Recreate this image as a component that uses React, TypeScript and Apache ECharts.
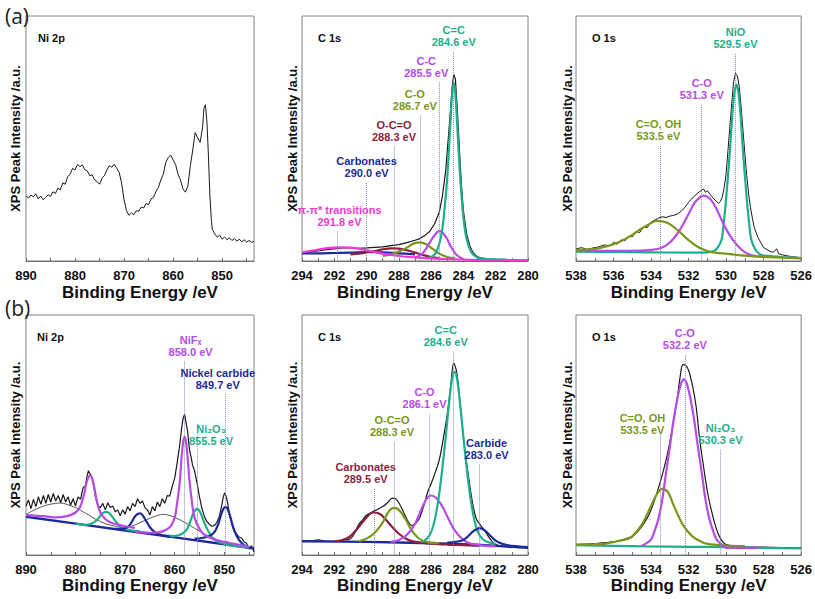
import React, { useEffect, useRef } from "react";
import * as echarts from "echarts";

// ---------- tick labels ----------
const niLabels = [850, 860, 870, 880, 890];
const niTicks = [845, 850, 855, 860, 865, 870, 875, 880, 885, 890];
const cLabels = [280, 282, 284, 286, 288, 290, 292, 294];
const cTicks = [280, 281, 282, 283, 284, 285, 286, 287, 288, 289, 290, 291, 292, 293, 294];
const oLabels = [526, 528, 530, 532, 534, 536, 538];
const oTicks = [526, 527, 528, 529, 530, 531, 532, 533, 534, 535, 536, 537, 538];

// ---------- (a) Ni 2p ----------
const aNiData = [[890,197],[889.5,190],[889,199],[888.5,194],[888,203],[887.5,188],[887,196],[886.5,185],[886,192],[885.5,200],[885,195],[884.5,209],[884,204],[883.5,220],[883,215],[882.5,236],[882,232],[881.5,255],[881,262],[880.5,280],[880,275],[879.5,292],[879,285],[878.5,290],[878,276],[877.5,272],[877,258],[876.5,260],[876,245],[875.5,240],[875,232],[874.5,250],[874,258],[873.5,275],[873,288],[872.5,283],[872,292],[871.5,280],[871,268],[870.5,235],[870,185],[869.5,152],[869,138],[868.5,145],[868,140],[867.5,152],[867,150],[866.5,163],[866,160],[865.5,174],[865,170],[864.5,188],[864,192],[863.5,210],[863,222],[862.5,245],[862,262],[861.5,298],[861,312],[860.5,320],[860,305],[859.5,292],[859,262],[858.5,245],[858,218],[857.5,208],[857,225],[856.5,285],[856,335],[855.5,388],[855,372],[854.5,358],[854,402],[853.7,462],[853.4,472],[853.1,420],[852.8,320],[852.5,200],[852.2,125],[852,95],[851.5,82],[851,72],[850.5,78],[850,66],[849.5,72],[849,64],[848.5,70],[848,62],[847.5,68],[847,60],[846.5,66],[846,58],[845.5,64],[845,57],[844.5,62],[844,56],[843.5,60]];

// ---------- (a) C 1s ----------
const aCData = [[294,25],[293.5,28],[293,30],[292.5,34],[292,36],[291.5,39],[291,40],[290.5,38],[290,39],[289.5,41],[289,42],[288.5,46],[288,49],[287.5,55],[287,62],[286.7,67],[286.4,76],[286.1,88],[285.8,110],[285.5,145],[285.3,195],[285.1,270],[284.95,360],[284.8,450],[284.7,520],[284.6,558],[284.5,545],[284.4,470],[284.3,380],[284.2,290],[284.1,210],[284,150],[283.8,80],[283.6,45],[283.4,25],[283.2,15],[283,10],[282.5,6],[282,4],[281,3],[280,3]];
const aC_CC2 = [[286.4,8],[286,12],[285.7,25],[285.4,70],[285.2,140],[285,250],[284.8,420],[284.7,500],[284.6,533],[284.5,500],[284.4,420],[284.2,250],[284,130],[283.8,65],[283.5,25],[283.2,12],[283,8],[282.5,6],[282,5],[281.3,4]];
const aC_CC = [[287,10],[286.6,20],[286.3,38],[286,62],[285.7,82],[285.5,90],[285.3,85],[285,65],[284.8,45],[284.5,22],[284.2,10],[284,6]];
const aC_CO = [[289,15],[288.5,20],[288,28],[287.5,40],[287.1,52],[286.7,56],[286.3,50],[285.9,36],[285.5,22],[285,12],[284.5,8]];
const aC_OCO = [[291,20],[290.5,22],[290,26],[289.5,30],[289,35],[288.5,38],[288.3,38],[288,37],[287.5,32],[287,25],[286.5,18],[286,12],[285.5,9]];
const aC_Carb = [[294,23],[293,23],[292,24],[291,25],[290,27],[289,26],[288,23],[287,20]];
const aC_Pi = [[294,26],[293.5,30],[293,34],[292.5,38],[292,40],[291.5,41],[291,40],[290.5,37],[290,32],[289.5,27],[289,22],[288.5,18],[288,15],[287,11],[286,8],[285,6],[284,4],[283,3],[282,3],[281,3],[280,3]];
const aCNotes = [["C=C\n284.6 eV", 284.6], ["C-C\n285.5 eV", 285.5], ["C-O\n286.7 eV", 286.7], ["O-C=O\n288.3 eV", 288.3], ["Carbonates\n290.0 eV", 290.0], ["π-π* transitions\n291.8 eV", 291.8]];

// ---------- (a) O 1s ----------
const aOData = [[538,36],[537.7,40],[537.4,34],[537.1,39],[536.8,42],[536.5,48],[536.2,45],[536,56],[535.8,50],[535.6,63],[535.4,60],[535.2,74],[535,72],[534.8,88],[534.6,85],[534.4,102],[534.2,100],[534,116],[533.8,122],[533.6,128],[533.4,132],[533.2,130],[533,134],[532.8,136],[532.6,140],[532.4,148],[532.2,160],[532,175],[531.8,188],[531.6,198],[531.4,208],[531.2,215],[531.1,205],[531,210],[530.8,195],[530.6,182],[530.4,172],[530.3,178],[530.2,192],[530.1,220],[530,260],[529.9,330],[529.8,400],[529.7,470],[529.6,535],[529.5,560],[529.4,552],[529.3,520],[529.2,460],[529.1,390],[529,320],[528.9,255],[528.8,200],[528.7,160],[528.6,128],[528.5,100],[528.3,70],[528.1,50],[528,40],[527.7,30],[527.5,26],[527.3,36],[527.2,22],[527,18],[526.5,13],[526,10]];
const aO_OH = [[538,33],[537,36],[536.5,42],[536,50],[535.5,62],[535,78],[534.5,97],[534,113],[533.7,120],[533.3,117],[533,110],[532.5,88],[532,62],[531.5,42],[531,30],[530.5,24],[530,22],[529,16],[528,12],[527,10],[526,8]];
const aO_CO = [[538,30],[536,30],[534.5,31],[534,33],[533.5,38],[533,55],[532.5,90],[532,140],[531.7,172],[531.4,190],[531.2,195],[530.9,188],[530.6,165],[530.3,130],[530,95],[529.6,60],[529.2,35],[528.8,20],[528.3,14],[527.8,12]];
const aO_NiO = [[538,28],[536,27],[534,26],[532,25],[531,26],[530.65,30],[530.45,40],[530.25,62],[530.15,100],[530.05,155],[529.95,220],[529.85,290],[529.75,370],[529.65,450],[529.55,505],[529.45,526],[529.35,505],[529.25,450],[529.15,370],[529.05,290],[528.95,220],[528.85,155],[528.75,100],[528.65,62],[528.45,35],[528.25,22],[528,16],[527,12],[526,9]];
const aONotes = [["NiO\n529.5 eV", 529.5], ["C-O\n531.3 eV", 531.3], ["C=O, OH\n533.5 eV", 533.5]];

// ---------- (b) Ni 2p ----------
const bNiData = [[890,150],[889.5,168],[889,142],[888.5,170],[888,148],[887.5,178],[887,155],[886.5,182],[886,158],[885.5,185],[885,162],[884.5,188],[884,165],[883.5,182],[883,160],[882.5,185],[882,162],[881.5,178],[881,152],[880.5,172],[880,150],[879.5,178],[879,170],[878.5,205],[878,212],[877.7,240],[877.4,258],[877.1,248],[876.8,242],[876.5,222],[876.2,198],[876,178],[875.5,150],[875,145],[874.5,158],[874,138],[873.5,160],[873,145],[872.5,150],[872,132],[871.5,138],[871,120],[870.5,138],[870,125],[869.5,148],[869,135],[868.5,158],[868,148],[867.5,172],[867,158],[866.5,165],[866,145],[865.5,138],[865,122],[864.5,148],[864,135],[863.5,162],[863,148],[862.5,172],[862,158],[861.5,182],[861,180],[860.5,210],[860,235],[859.5,282],[859,335],[858.6,388],[858.3,418],[858,430],[857.7,405],[857.4,378],[857,320],[856.7,300],[856.4,275],[856,258],[855.7,235],[855.4,212],[855,178],[854.5,142],[854,118],[853.5,102],[853,94],[852.5,88],[852,90],[851.5,100],[851,118],[850.5,152],[850.2,178],[849.9,190],[849.6,178],[849.3,158],[849,128],[848.5,96],[848,72],[847.5,64],[847,55],[846.5,52],[846,40],[845.5,36],[845,18],[844.5,28],[844,10]];
const bNiBase = [[890,117],[880,96],[870,75],[860,54],[850,33],[844,20]];
const bNiSat1 = [[890,124],[888,140],[886,152],[884,158],[883,159],[882,156],[880,145],[878,128],[876,110],[874,96],[872,88],[870,82]];
const bNiSat2 = [[872,78],[870,82],[868,92],[866,106],[864,118],[862.5,124],[861.5,123],[860,115],[858,100],[856,82],[854,64],[852,50],[850,38],[848,30],[846,25]];
const bNiF1 = [[890,122],[886,118],[884,115],[882,118],[880,130],[879,150],[878.3,185],[877.8,220],[877.3,240],[877,242],[876.6,232],[876.2,205],[875.7,165],[875,130],[874,110],[873,100],[872,95],[870,88],[868,83]];
const bNiF2 = [[868,72],[865,68],[863,70],[861,85],[860,115],[859.5,160],[859,220],[858.6,300],[858.3,345],[858,362],[857.7,345],[857.4,300],[857,225],[856.5,160],[856,115],[855,80],[854,62],[852,48],[850,40],[848,34],[846,28],[845,25]];
const bNiO1 = [[880,96],[878,92],[876.5,98],[875.5,110],[874.8,124],[874.2,131],[873.8,132],[873.2,128],[872.5,115],[871.5,95],[870.5,82],[869,76],[867,72]];
const bNiO2 = [[862,60],[860,58],[858.5,65],[857.5,80],[856.8,105],[856.2,130],[855.7,140],[855.5,142],[855,135],[854.5,118],[854,98],[853.3,75],[852.5,55],[851.5,42],[850,34],[848,28],[846,24],[845,22]];
const bNiC1 = [[872,80],[870.5,80],[869.5,85],[868.7,100],[868,118],[867.4,126],[867,127],[866.5,122],[865.8,105],[865,85],[864,70],[862.5,60],[861,56]];
const bNiC2 = [[856,50],[854.5,52],[853,58],[852,70],[851.2,95],[850.6,125],[850.1,143],[849.7,147],[849.3,140],[848.8,118],[848.2,85],[847.5,58],[846.8,42],[846,30],[845,24]];
const bNiNotes = [["NiFₓ\n858.0 eV", 858.0], ["Nickel carbide\n849.7 eV", 849.7], ["Ni₂O₃\n855.5 eV", 855.5]];

// ---------- (b) C 1s ----------
const bCData = [[294,42],[293.5,43],[293,46],[292.5,42],[292,42],[291.5,45],[291,50],[290.7,70],[290.5,92],[290.2,110],[290,122],[289.5,135],[289,148],[288.7,160],[288.4,174],[288.2,172],[288,160],[287.7,130],[287.4,100],[287.2,90],[287,94],[286.7,115],[286.4,160],[286.2,195],[286,218],[285.8,245],[285.5,290],[285.2,370],[285,430],[284.8,510],[284.6,587],[284.4,555],[284.2,460],[284,360],[283.8,280],[283.6,210],[283.4,150],[283.2,110],[283,95],[282.8,82],[282.5,60],[282.2,40],[282,32],[281.5,26],[281,24],[280,22]];
const bCBase = [[294,42],[290,40],[286,36],[284,33],[282,28],[280,22]];
const bC_Carb = [[292,42],[291.5,46],[291,58],[290.5,85],[290,115],[289.6,130],[289.2,126],[288.8,108],[288.4,85],[288,65],[287.5,48],[287,40],[286,35],[285,32],[284,30],[283,28]];
const bC_OCO = [[290.5,42],[290,50],[289.5,68],[289,100],[288.6,135],[288.3,144],[288,138],[287.6,110],[287.2,75],[286.8,52],[286.3,40],[285.5,36]];
const bC_CO = [[288.5,40],[288,46],[287.5,62],[287,95],[286.6,140],[286.3,170],[286,182],[285.7,175],[285.3,148],[285,118],[284.6,80],[284.2,55],[283.8,40],[283.3,32],[282.5,28],[282,26]];
const bC_CC = [[286.6,40],[286.3,48],[286,70],[285.7,125],[285.4,225],[285.1,360],[284.9,460],[284.7,540],[284.55,560],[284.4,540],[284.2,460],[284,360],[283.7,225],[283.4,125],[283.1,70],[282.8,48],[282.5,40],[282,34]];
const bC_Carbide = [[285,38],[284.5,40],[284,46],[283.7,58],[283.4,72],[283.1,81],[283,82],[282.7,76],[282.4,62],[282.1,48],[281.8,38],[281.3,30],[280.5,26],[280,24]];
const bCNotes = [["C=C\n284.6 eV", 284.6], ["C-O\n286.1 eV", 286.1], ["O-C=O\n288.3 eV", 288.3], ["Carbide\n283.0 eV", 283.0], ["Carbonates\n289.5 eV", 289.5]];

// ---------- (b) O 1s ----------
const bOData = [[538,32],[537,35],[536,40],[535.5,47],[535,57],[534.7,72],[534.4,95],[534.1,125],[533.8,170],[533.5,225],[533.2,290],[533,345],[532.8,410],[532.6,480],[532.45,545],[532.3,582],[532.15,580],[532,565],[531.8,520],[531.6,455],[531.4,350],[531.2,270],[531,195],[530.8,140],[530.6,95],[530.4,62],[530.2,42],[530,32],[529.5,27],[529,25],[528,24],[527,23],[526,22]];
const bO_OH = [[538,32],[537,33],[536.5,34],[535.8,42],[535.3,48],[535,57],[534.5,92],[534,150],[533.7,185],[533.4,202],[533.1,192],[532.8,152],[532.3,92],[531.8,57],[531.3,40],[531,34],[530,29],[529,27]];
const bO_CO = [[534.5,28],[534.2,38],[534,47],[533.8,75],[533.6,112],[533.4,170],[533.2,252],[533,330],[532.8,412],[532.6,478],[532.4,525],[532.25,537],[532.1,525],[531.9,478],[531.7,412],[531.5,330],[531.3,252],[531.1,170],[530.9,112],[530.7,75],[530.5,47],[530.2,30],[530,22],[529,22],[528.3,22]];
const bO_Ni2O3 = [[538,30],[536,28],[534,26],[532,25],[530,24],[528,22],[526,20]];
const bONotes = [["C-O\n532.2 eV", 532.2], ["C=O, OH\n533.5 eV", 533.5], ["Ni₂O₃\n530.3 eV", 530.3]];

// ---------- styling / layout ----------
const TEAL = "#1fae8a";
const PURPLE = "#b64be8";
const OLIVE = "#7a971a";
const NAVY = "#1d2a9c";
const MAROON = "#8c1f3e";
const MAGENTA = "#f03ad2";
const FONT = "'Liberation Sans', Arial, sans-serif";

// label layout: [label bottom (data units), x offset px, dotted line top (data units)]
const aCPos = [[633, 0, 625], [543, -13, 535], [443, -5, 435], [351, 0, 343], [241, 0, 233], [96, 2, 88]];
const aOPos = [[626, 0, 618], [473, 0, 465], [353, -2, 343]];
const bNiPos = [[600, 6, 592], [500, -8, 492], [327, 14, 400]];
const bCPos = [[630, -8, 622], [440, -5, 432], [355, -2, 347], [285, 7, 277], [210, -9, 202]];
const bOPos = [[620, 0, 612], [360, -18, 372], [330, 0, 322]];

function line(data: number[][], color: string, width: number, smooth = true, z = 3) {
  return { data, color, width, smooth, z };
}

function buildOption() {
  const panels: any[] = [
    { grid: { left: 26, top: 16, width: 228, height: 245 }, min: 843.5, max: 890, yMax: 740, labels: niLabels, ticks: niTicks, title: "Ni 2p", tpos: [33, 27], yGap: 4,
      curves: [line(aNiData, "#1a1a1a", 1, false, 2)], notes: [], pos: [], colors: [] },
    { grid: { left: 302, top: 16, width: 226, height: 245 }, min: 280, max: 294, yMax: 733, labels: cLabels, ticks: cTicks, title: "C 1s", tpos: [313, 27], yGap: 3,
      curves: [line(aCData, "#1a1a1a", 1.2, false, 2), line(aC_Carb, NAVY, 2.2), line(aC_OCO, MAROON, 2.2), line(aC_CO, OLIVE, 2.2), line(aC_CC, PURPLE, 2.2), line(aC_CC2, TEAL, 2.2), line(aC_Pi, MAGENTA, 2.2)],
      notes: aCNotes, pos: aCPos, colors: [TEAL, PURPLE, OLIVE, MAROON, NAVY, MAGENTA] },
    { grid: { left: 576, top: 16, width: 228, height: 245 }, min: 526, max: 538, yMax: 731, labels: oLabels, ticks: oTicks, title: "O 1s", tpos: [587, 27], yGap: 2,
      curves: [line(aOData, "#1a1a1a", 1, false, 2), line(aO_NiO, TEAL, 2.2), line(aO_CO, PURPLE, 2.2), line(aO_OH, OLIVE, 2.2)],
      notes: aONotes, pos: aOPos, colors: [TEAL, PURPLE, OLIVE] },
    { grid: { left: 26, top: 315, width: 228, height: 240 }, min: 844, max: 890, yMax: 734, labels: niLabels, ticks: niTicks, title: "Ni 2p", tpos: [32, 326], yGap: 4,
      curves: [line(bNiData, "#1a1a1a", 1.2, false, 2), line(bNiSat1, "#555", 1), line(bNiSat2, "#555", 1), line(bNiBase, NAVY, 2.4, false), line(bNiO1, TEAL, 2.2), line(bNiO2, TEAL, 2.2), line(bNiC1, NAVY, 2.2), line(bNiC2, NAVY, 2.2), line(bNiF1, PURPLE, 2.2), line(bNiF2, PURPLE, 2.2)],
      notes: bNiNotes, pos: bNiPos, colors: [PURPLE, NAVY, TEAL] },
    { grid: { left: 302, top: 315, width: 226, height: 240 }, min: 280, max: 294, yMax: 734, labels: cLabels, ticks: cTicks, title: "C 1s", tpos: [313, 326], yGap: 3,
      curves: [line(bCData, "#1a1a1a", 1.2, true, 2), line(bCBase, NAVY, 2.4), line(bC_Carb, MAROON, 2.2), line(bC_OCO, OLIVE, 2.2), line(bC_CO, PURPLE, 2.2), line(bC_CC, TEAL, 2.2), line(bC_Carbide, NAVY, 2.2)],
      notes: bCNotes, pos: bCPos, colors: [TEAL, PURPLE, OLIVE, NAVY, MAROON] },
    { grid: { left: 576, top: 315, width: 228, height: 240 }, min: 526, max: 538, yMax: 734, labels: oLabels, ticks: oTicks, title: "O 1s", tpos: [587, 326], yGap: 2,
      curves: [line(bOData, "#1a1a1a", 1.2, true, 2), line(bO_Ni2O3, TEAL, 2.2), line(bO_OH, OLIVE, 2.2), line(bO_CO, PURPLE, 2.2)],
      notes: bONotes, pos: bOPos, colors: [PURPLE, OLIVE, TEAL] },
  ];

  const grid: any[] = [];
  const xAxis: any[] = [];
  const yAxis: any[] = [];
  const series: any[] = [];
  const title: any[] = [
    { text: "(a)", left: 0, top: 0, textStyle: { fontSize: 21, fontWeight: "normal", color: "#222", fontFamily: "'Open Sans', Arial, sans-serif" } },
    { text: "(b)", left: 0, top: 292, textStyle: { fontSize: 21, fontWeight: "normal", color: "#222", fontFamily: "'Open Sans', Arial, sans-serif" } },
  ];

  panels.forEach((p, i) => {
    grid.push({ ...p.grid, show: true, borderColor: "#808080", borderWidth: 1, backgroundColor: "transparent" });
    xAxis.push({
      type: "value", gridIndex: i, inverse: true, min: p.min, max: p.max,
      axisLine: { show: true, lineStyle: { color: "#707070" } },
      axisTick: { show: true, inside: true, length: 3, customValues: p.ticks, lineStyle: { color: "#707070" } },
      axisLabel: { show: true, customValues: p.labels, margin: 8, fontSize: 13, fontWeight: "bold", color: "#111", fontFamily: FONT },
      splitLine: { show: false },
      name: "Binding Energy /eV", nameLocation: "middle", nameGap: i < 3 ? 23 : 22,
      nameTextStyle: { fontSize: 17, fontWeight: "bold", color: "#111", fontFamily: FONT },
    });
    yAxis.push({
      type: "value", gridIndex: i, min: 0, max: p.yMax,
      axisLine: { show: false }, axisTick: { show: false }, axisLabel: { show: false }, splitLine: { show: false },
      name: "XPS Peak Intensity /a.u.", nameLocation: "middle", nameGap: p.yGap,
      nameTextStyle: { fontSize: 13, fontWeight: "bold", color: "#111", fontFamily: FONT },
    });
    title.push({ text: p.title, left: p.tpos[0], top: p.tpos[1], textStyle: { fontSize: 11, fontWeight: "bold", color: "#111", fontFamily: FONT } });

    p.curves.forEach((c: any, k: number) => {
      const s: any = {
        type: "line", xAxisIndex: i, yAxisIndex: i, data: c.data, showSymbol: false, symbol: "none",
        smooth: c.smooth ? 0.35 : false, z: c.z, silent: true,
        lineStyle: { color: c.color, width: c.width },
      };
      if (k === 0 && p.notes.length) {
        s.markLine = {
          silent: true, symbol: "none", animation: false,
          lineStyle: { type: "dotted", color: "#7d8db0", width: 1 },
          label: { show: false },
          data: p.notes.map((n: any, j: number) => [{ coord: [n[1], p.pos[j][2]] }, { coord: [n[1], 0] }]),
        };
        s.markPoint = {
          silent: true, animation: false,
          data: p.notes.map((n: any, j: number) => ({
            coord: [n[1], p.pos[j][0]], symbol: "rect", symbolSize: 0,
            itemStyle: { color: "transparent" },
            label: {
              show: true, position: "top", distance: 1, offset: [p.pos[j][1], 0], formatter: n[0],
              color: p.colors[j], fontSize: 11, fontWeight: "bold", lineHeight: 12, align: "center", fontFamily: FONT,
            },
          })),
        };
      }
      series.push(s);
    });
  });

  return { animation: false, backgroundColor: "#fff", title, grid, xAxis, yAxis, series };
}

export default function App() {
  const ref = useRef<HTMLDivElement>(null);
  useEffect(() => {
    const chart = echarts.init(ref.current!, null, { renderer: "svg" });
    chart.setOption(buildOption() as any);
    return () => chart.dispose();
  }, []);
  return <div ref={ref} style={{ position: "fixed", left: 0, top: 0, width: 815, height: 599, background: "#fff" }} />;
}
